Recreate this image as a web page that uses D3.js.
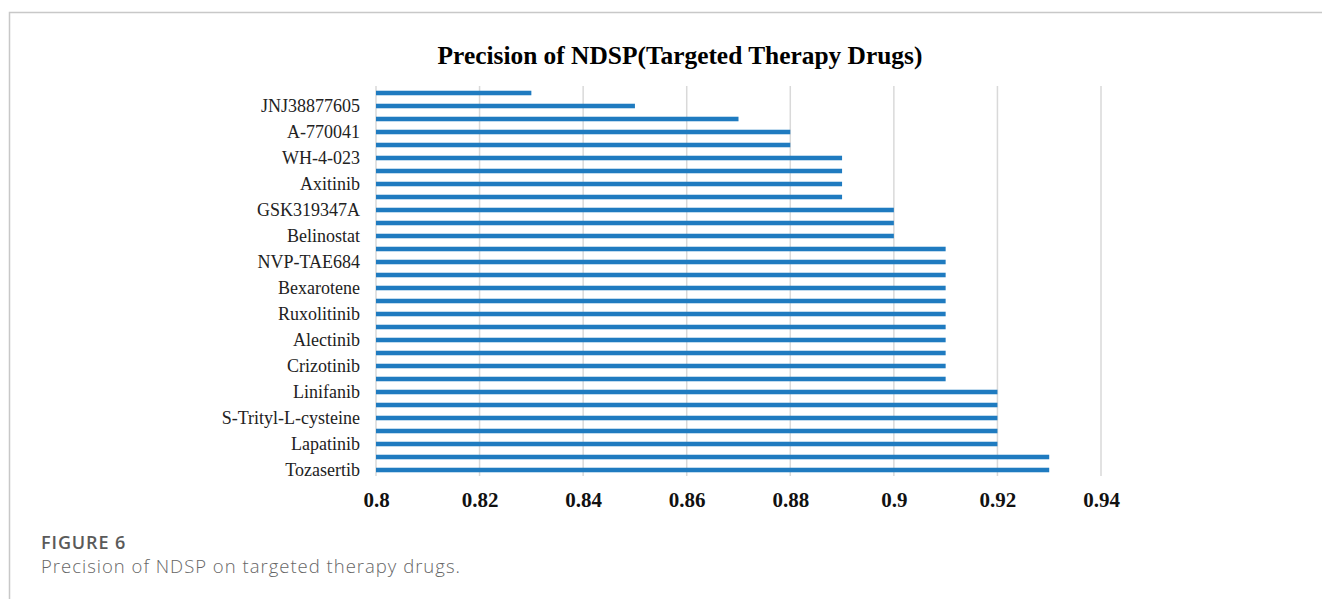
<!DOCTYPE html>
<html>
<head>
<meta charset="utf-8">
<script src="https://cdn.jsdelivr.net/npm/d3@7"></script>
<style>
  html, body { margin: 0; padding: 0; background: #fff; }
  svg { display: block; }
</style>
</head>
<body>
<svg id="chart" width="1322" height="599"></svg>
<script>
// Data, top to bottom as drawn (every other category is labelled on the axis)
const categories = [
  "", "JNJ38877605", "", "A-770041", "", "WH-4-023", "", "Axitinib",
  "", "GSK319347A", "", "Belinostat", "", "NVP-TAE684", "", "Bexarotene",
  "", "Ruxolitinib", "", "Alectinib", "", "Crizotinib", "", "Linifanib",
  "", "S-Trityl-L-cysteine", "", "Lapatinib", "", "Tozasertib"
];
const precision = [
  0.83, 0.85, 0.87, 0.88, 0.88, 0.89, 0.89, 0.89, 0.89, 0.90,
  0.90, 0.90, 0.91, 0.91, 0.91, 0.91, 0.91, 0.91, 0.91, 0.91,
  0.91, 0.91, 0.91, 0.92, 0.92, 0.92, 0.92, 0.92, 0.93, 0.93
];
const xTicks = [0.8, 0.82, 0.84, 0.86, 0.88, 0.9, 0.92, 0.94];
const titleText = "Precision of NDSP(Targeted Therapy Drugs)";
const figLabel = "FIGURE 6";
const captionText = "Precision of NDSP on targeted therapy drugs.";

const svg = d3.select("#chart");

// frame
svg.append("path")
  .attr("d", "M9.5,599 V12.5 H1322")
  .attr("fill", "none")
  .attr("stroke", "#c8c8c8")
  .attr("stroke-width", 1.5);

const idx = d3.range(precision.length);
const x = d3.scaleLinear().domain([0.8, 0.94]).range([376, 1101]);
const y = d3.scaleBand().domain(idx).range([86.5, 476.5]).paddingInner(0.65).paddingOuter(0.325);

// title
svg.append("text")
  .attr("x", 680).attr("y", 64)
  .attr("text-anchor", "middle")
  .attr("font-family", "'Liberation Serif', 'Times New Roman', serif")
  .attr("font-weight", "bold")
  .attr("font-size", 25.4)
  .attr("fill", "#000")
  .text(titleText);

// gridlines
svg.append("g").selectAll("line").data(xTicks).join("line")
  .attr("x1", d => x(d)).attr("x2", d => x(d))
  .attr("y1", 86).attr("y2", 476)
  .attr("stroke", "#d9d9d9")
  .attr("stroke-width", 1.5);

// bars
svg.append("g").selectAll("rect").data(precision).join("rect")
  .attr("x", x(0.8))
  .attr("y", (d, i) => y(i))
  .attr("width", d => x(d) - x(0.8))
  .attr("height", y.bandwidth())
  .attr("fill", "#1f7bc0");

// y axis labels
const yAxis = d3.axisLeft(y).tickSize(0).tickPadding(0)
  .tickFormat(i => categories[i]);
const gy = svg.append("g").attr("transform", "translate(360,0)").call(yAxis);
gy.select(".domain").remove();
gy.selectAll("text")
  .attr("font-family", "'Liberation Serif', 'Times New Roman', serif")
  .attr("font-size", 18)
  .attr("fill", "#222");

// x axis labels
const xAxis = d3.axisBottom(x).tickValues(xTicks).tickSize(0).tickPadding(0)
  .tickFormat(d => d3.format("")(+d.toFixed(2)));
const gx = svg.append("g").attr("transform", "translate(0,492)").call(xAxis);
gx.select(".domain").remove();
gx.selectAll("text")
  .attr("font-family", "'Liberation Serif', 'Times New Roman', serif")
  .attr("font-weight", "bold")
  .attr("font-size", 21)
  .attr("fill", "#111");

// caption
svg.append("text")
  .attr("x", 41).attr("y", 549)
  .attr("font-family", "'Open Sans', 'Noto Sans', sans-serif")
  .attr("font-weight", 600)
  .attr("font-size", 18)
  .attr("letter-spacing", 0.9)
  .attr("fill", "#5a5a5a")
  .text(figLabel);
svg.append("text")
  .attr("x", 41).attr("y", 573)
  .attr("font-family", "'Open Sans', 'Noto Sans', sans-serif")
  .attr("font-weight", 300)
  .attr("font-size", 18.5)
  .attr("letter-spacing", 1.0)
  .attr("fill", "#666")
  .text(captionText);
</script>
</body>
</html>
